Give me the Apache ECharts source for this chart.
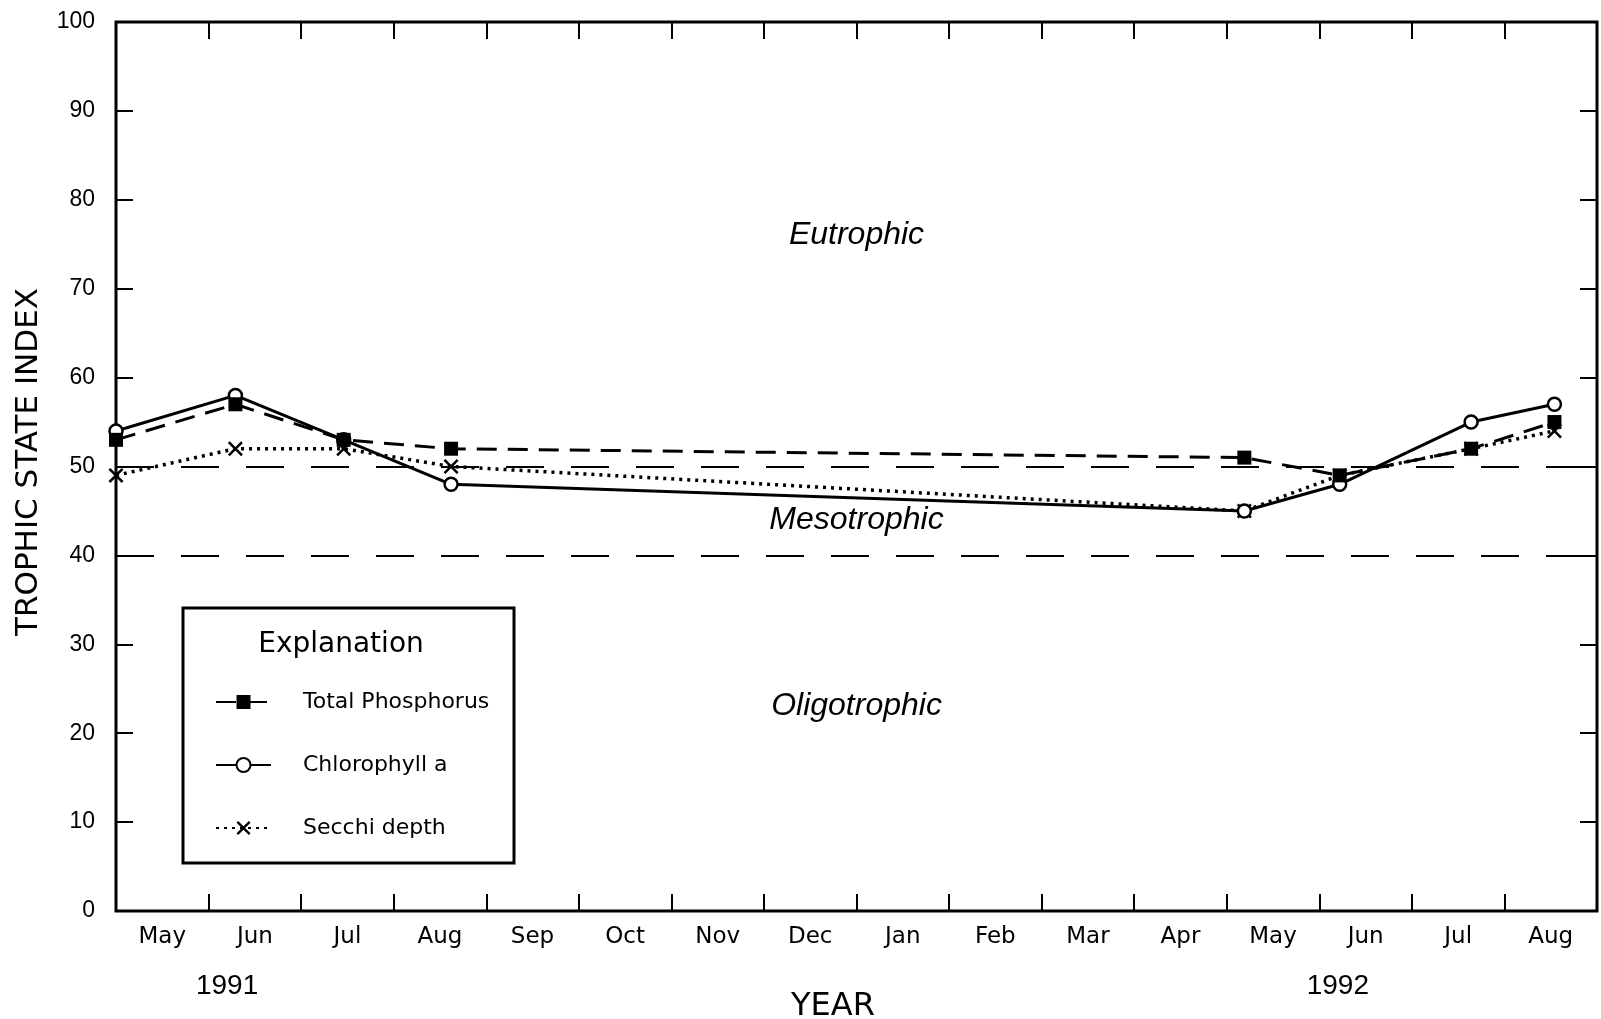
<!DOCTYPE html>
<html>
<head>
<meta charset="utf-8">
<script src="https://cdn.jsdelivr.net/npm/echarts@6/dist/echarts.min.js"></script>
<style>
  html, body { margin: 0; padding: 0; background: #fff; }
  #chart { width: 1601px; height: 1019px; }
</style>
</head>
<body>
<div id="chart"></div>
<script>
// Month bands along the x axis (May 1991 - Aug 1992)
const monthLabels = ['May', 'Jun', 'Jul', 'Aug', 'Sep', 'Oct', 'Nov', 'Dec',
                     'Jan', 'Feb', 'Mar', 'Apr', 'May', 'Jun', 'Jul', 'Aug'];
// Sampling dates, in months since 1 May 1991
const sampleMonths = [0, 1.29, 2.46, 3.62, 12.19, 13.22, 14.64, 15.54];
// Trophic state index values per sampling date
const totalPhosphorus = [53, 57, 53, 52, 51, 49, 52, 55];
const chlorophyllA    = [54, 58, 53, 48, 45, 48, 55, 57];
const secchiDepth     = [49, 52, 52, 50, 45, 49, 52, 54];
// Boundaries between trophic classes
const stateBoundaries = [50, 40];
// Class names and where they are written (month, index)
const zoneNames = ['Eutrophic', 'Mesotrophic', 'Oligotrophic'];
const zoneLabelMonth = [8, 8, 8];
const zoneLabelIndex = [76, 44, 23];
// Year captions under the month labels
const yearLabels = ['1991', '1992'];
const yearLabelMonths = [1.2, 13.2];

const pairs = vals => sampleMonths.map((m, i) => [m, vals[i]]);

const chart = echarts.init(document.getElementById('chart'), null, { renderer: 'canvas' });

const tickStyle = { inside: true, length: 17, lineStyle: { color: '#000', width: 2 } };
const xMonths = {
  type: 'value', min: 0, max: 16, interval: 1,
  axisLine: { show: false, onZero: false }, axisTick: tickStyle,
  axisLabel: { show: false }, splitLine: { show: false }
};
const yIndex = {
  type: 'value', min: 0, max: 100, interval: 10,
  axisLine: { show: false, onZero: false }, axisTick: tickStyle, splitLine: { show: false }
};

const crossSymbol = 'path://M0,1.2 L1.2,0 L5,3.8 L8.8,0 L10,1.2 L6.2,5 L10,8.8 L8.8,10 L5,6.2 L1.2,10 L0,8.8 L3.8,5 Z';

chart.setOption({
  animation: false,
  backgroundColor: '#fff',
  grid: { left: 116, right: 4, top: 22, bottom: 108, show: true, borderColor: '#000', borderWidth: 3 },
  xAxis: [
    Object.assign({}, xMonths, { position: 'bottom' }),
    Object.assign({}, xMonths, { position: 'top' }),
    {
      type: 'category', data: monthLabels, position: 'bottom', boundaryGap: true,
      axisLine: { show: false, onZero: false }, axisTick: { show: false },
      axisLabel: { margin: 15, color: '#000', fontFamily: 'DejaVu Sans', fontSize: 23 }
    }
  ],
  yAxis: [
    Object.assign({}, yIndex, {
      position: 'left',
      axisLabel: { margin: 21, color: '#000', fontFamily: 'Liberation Sans', fontSize: 23 }
    }),
    Object.assign({}, yIndex, { position: 'right', axisLabel: { show: false } })
  ],
  legend: {
    data: ['Total Phosphorus', 'Chlorophyll a', 'Secchi depth'],
    orient: 'vertical', left: 210, top: 686,
    itemWidth: 55, itemHeight: 17.5, itemGap: 41,
    selectedMode: false,
    textStyle: { color: '#000', fontFamily: 'DejaVu Sans', fontSize: 22, padding: [0, 0, 0, 27] }
  },
  series: [
    {
      name: 'Secchi depth', type: 'line', z: 3,
      data: pairs(secchiDepth),
      symbol: crossSymbol, symbolSize: 15,
      itemStyle: { color: '#000' },
      lineStyle: { color: '#000', width: 3.5, type: [3, 5] }
    },
    {
      name: 'Chlorophyll a', type: 'line', z: 4,
      data: pairs(chlorophyllA),
      symbol: 'circle', symbolSize: 13,
      itemStyle: { color: '#fff', borderColor: '#000', borderWidth: 2.5 },
      lineStyle: { color: '#000', width: 3 }
    },
    {
      name: 'Total Phosphorus', type: 'line', z: 5,
      data: pairs(totalPhosphorus),
      symbol: 'rect', symbolSize: 14,
      itemStyle: { color: '#000' },
      lineStyle: { color: '#000', width: 3, type: [20, 11] },
      markLine: {
        silent: true, symbol: ['none', 'none'], z: 1,
        label: { show: false },
        lineStyle: { color: '#000', width: 2, type: [38, 27] },
        data: stateBoundaries.map(v => ({ yAxis: v }))
      }
    },
    {
      name: 'zones', type: 'scatter', z: 2, silent: true,
      symbolSize: 1, itemStyle: { color: 'rgba(0,0,0,0)', opacity: 1 },
      data: zoneNames.map((n, i) => ({ name: n, value: [zoneLabelMonth[i], zoneLabelIndex[i]] })),
      label: {
        show: true, position: 'inside', formatter: '{b}', opacity: 1,
        color: '#000', fontFamily: 'Liberation Sans', fontStyle: 'italic', fontSize: 32
      }
    }
  ]
});

// Captions and the explanation box
const years = yearLabels.map((t, i) => ({
  type: 'text',
  x: chart.convertToPixel({ xAxisIndex: 0 }, yearLabelMonths[i]),
  y: 986,
  style: { text: t, fill: '#000', font: '28px "Liberation Sans"', textAlign: 'center', textVerticalAlign: 'middle' }
}));

chart.setOption({
  graphic: [
    {
      type: 'rect', z: 10,
      shape: { x: 183, y: 608, width: 331, height: 255 },
      style: { fill: 'none', stroke: '#000', lineWidth: 3 }
    },
    {
      type: 'text', x: 341, y: 645,
      style: { text: 'Explanation', fill: '#000', font: '28px "DejaVu Sans"', textAlign: 'center', textVerticalAlign: 'middle' }
    },
    {
      type: 'text', x: 29, y: 462, rotation: Math.PI / 2,
      style: { text: 'TROPHIC STATE INDEX', fill: '#000', font: '31px "DejaVu Sans"', textAlign: 'center', textVerticalAlign: 'middle' }
    },
    {
      type: 'text', x: 833, y: 1007,
      style: { text: 'YEAR', fill: '#000', font: '32px "DejaVu Sans"', textAlign: 'center', textVerticalAlign: 'middle' }
    }
  ].concat(years)
});
</script>
</body>
</html>
